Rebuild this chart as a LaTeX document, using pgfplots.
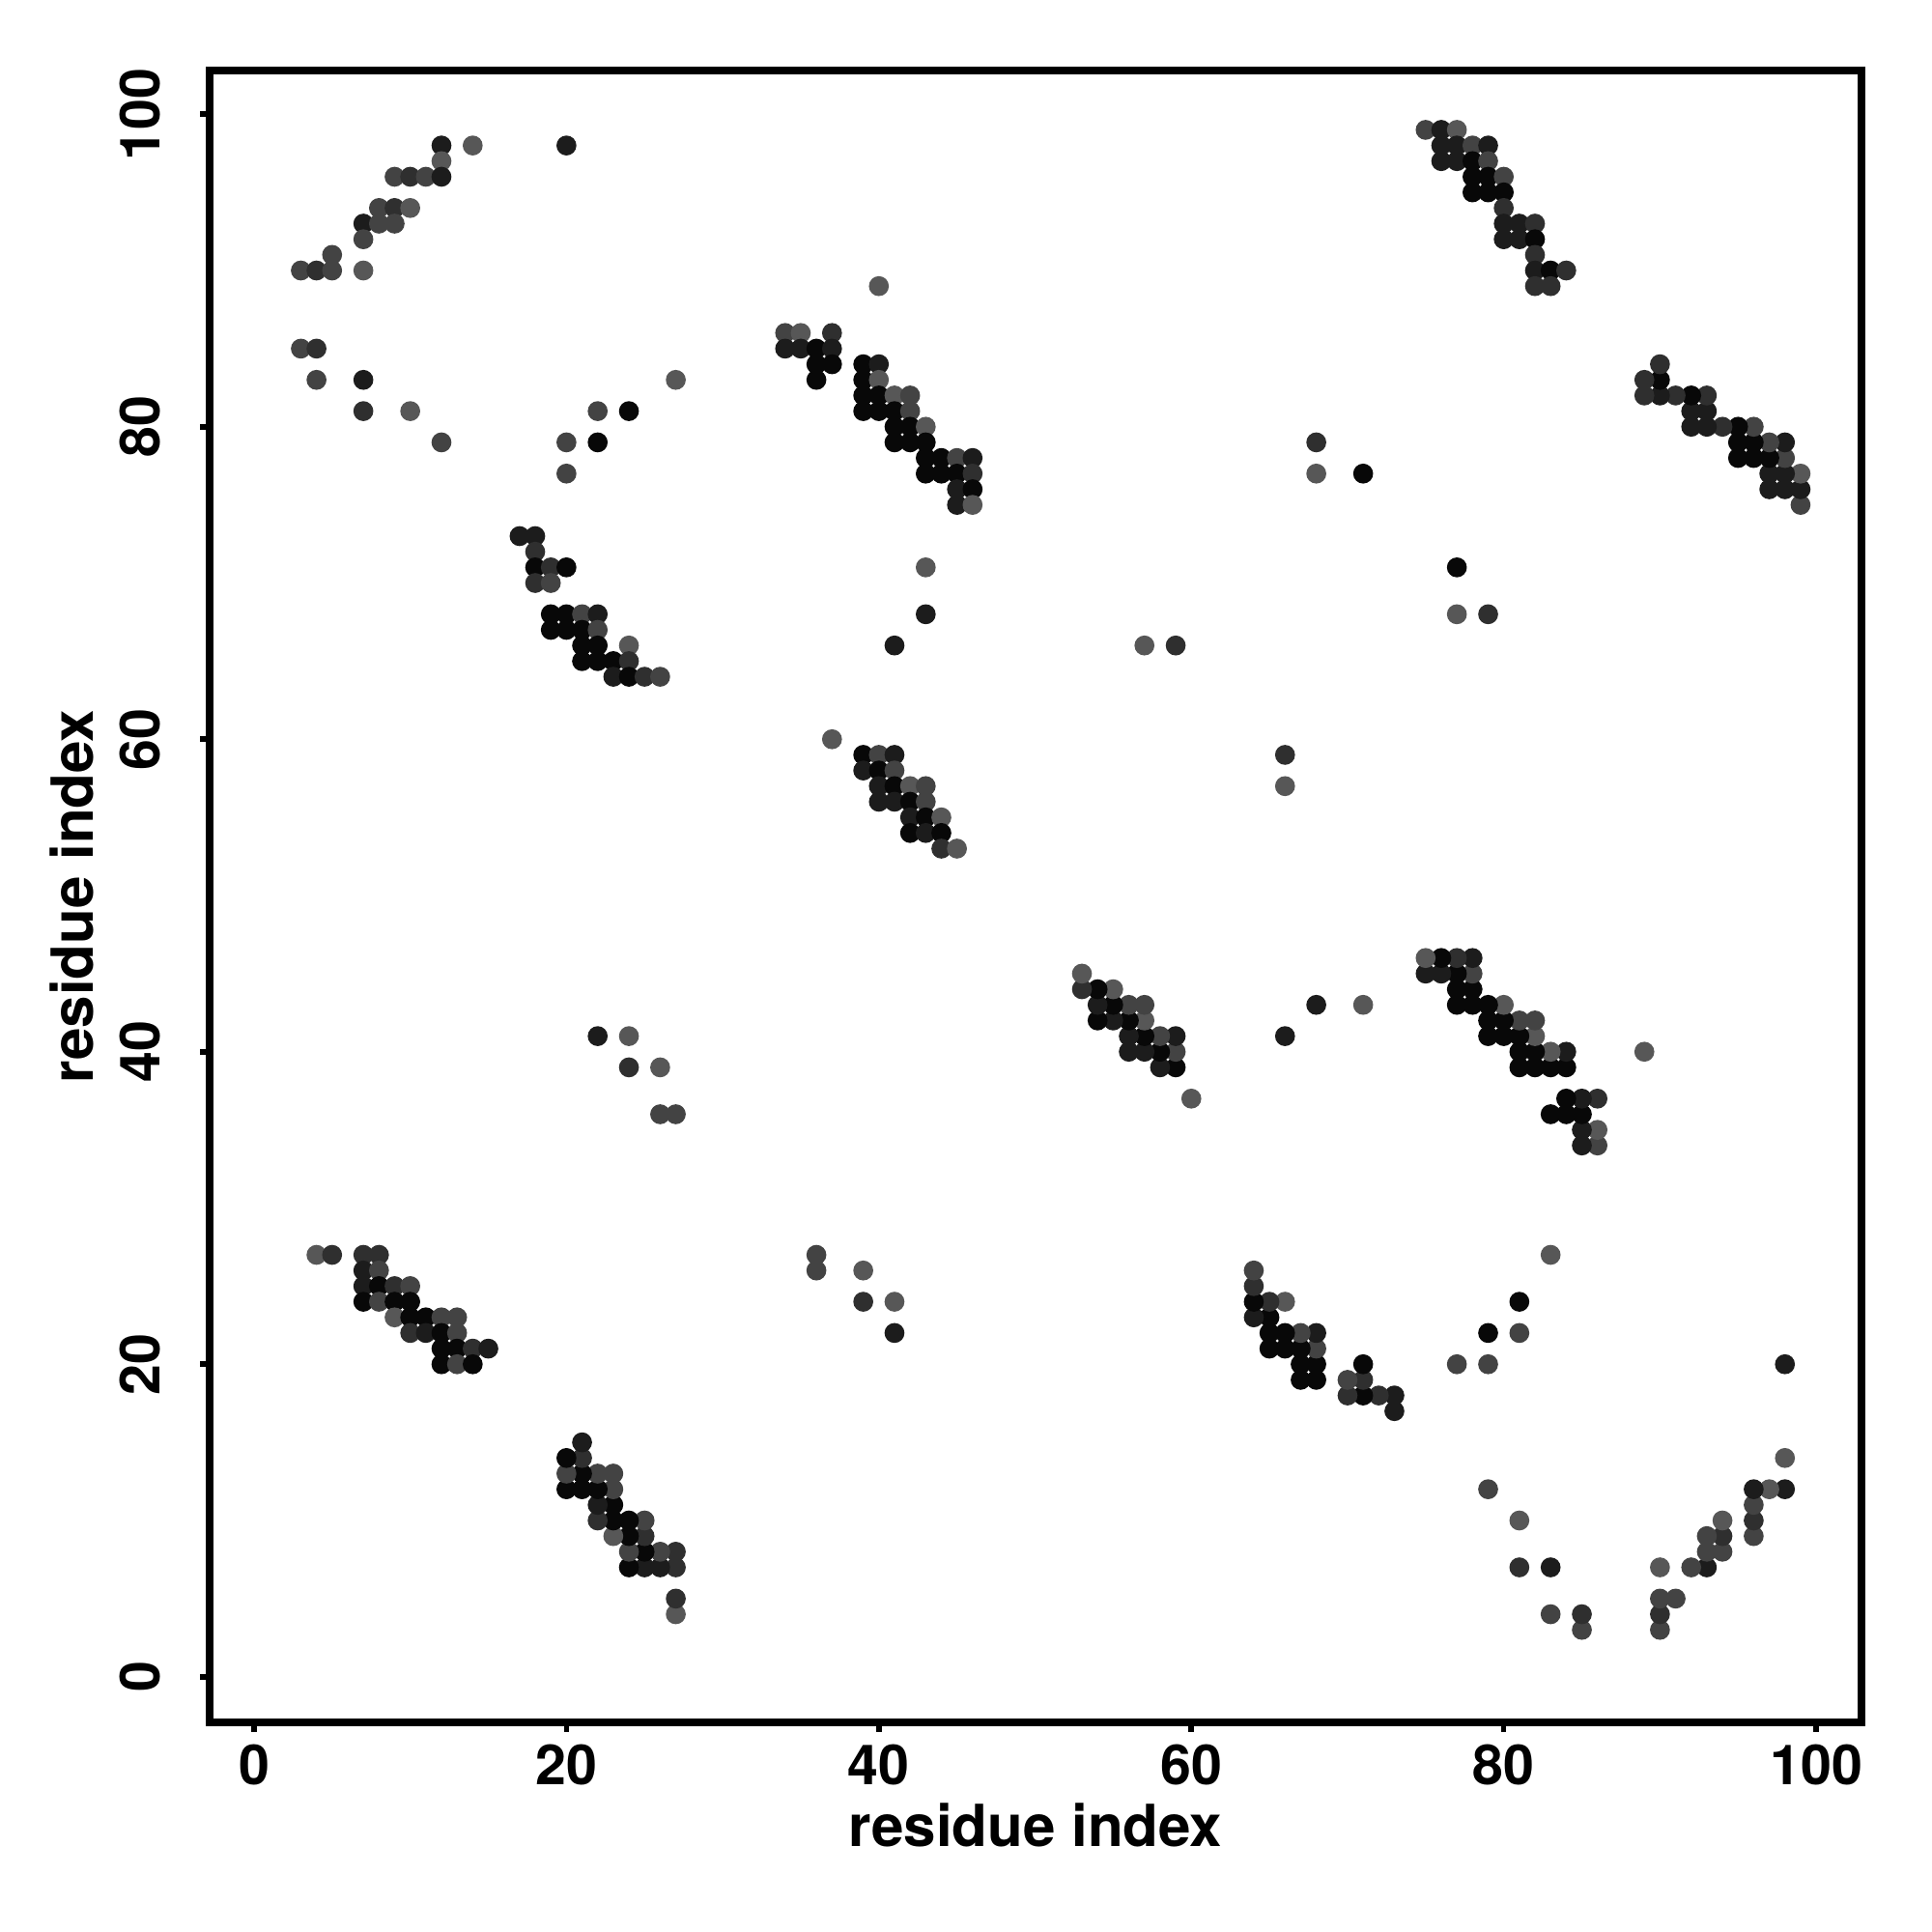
\documentclass[border=0pt]{standalone}
\usepackage{fontspec}
\setmainfont{TeX Gyre Heros}
\usepackage{pgfplots}
\pgfplotsset{compat=1.18}
\usepackage{pgfplotstable}

% upper triangle of the symmetric contact map: x y shade(0=black .. 4=gray)
\pgfplotstableread{
x y c
12 98 1
14 98 4
20 98 1
12 97 4
9 96 3
10 96 2
11 96 3
12 96 1
8 94 3
9 94 2
10 94 4
7 93 1
8 93 3
9 93 3
7 92 3
5 91 3
3 90 3
4 90 2
5 90 3
7 90 4
3 85 3
4 85 2
4 83 3
7 83 1
27 83 4
7 81 2
10 81 4
22 81 3
24 81 0
12 79 3
20 79 3
22 79 0
20 77 3
40 89 4
34 86 3
35 86 4
37 86 2
34 85 1
35 85 1
36 85 0
37 85 1
36 84 0
37 84 0
39 84 0
40 84 1
36 83 0
39 83 0
40 83 4
39 82 0
40 82 0
41 82 4
42 82 3
39 81 0
40 81 0
41 81 0
42 81 3
41 80 0
42 80 0
43 80 4
41 79 0
42 79 0
43 79 0
43 78 0
44 78 0
45 78 3
46 78 1
43 77 0
44 77 0
45 77 0
46 77 2
45 76 1
46 76 0
45 75 1
46 75 4
75 99 3
76 99 1
77 99 4
76 98 1
77 98 1
78 98 3
79 98 1
76 97 1
77 97 1
78 97 0
79 97 3
78 96 0
79 96 0
80 96 3
78 95 0
79 95 0
80 95 0
80 94 2
80 93 1
81 93 1
82 93 2
80 92 1
81 92 1
82 92 0
82 91 2
82 90 1
83 90 0
84 90 2
82 89 2
83 89 2
17 73 1
18 73 1
18 72 2
18 71 0
19 71 2
20 71 0
18 70 2
19 70 3
19 68 0
20 68 0
21 68 3
22 68 1
19 67 0
20 67 0
21 67 0
22 67 3
21 66 0
22 66 0
24 66 4
21 65 0
22 65 0
23 65 0
24 65 2
23 64 1
24 64 0
25 64 2
26 64 3
43 71 4
43 68 1
41 66 1
37 60 4
39 59 0
40 59 3
41 59 1
39 58 1
40 58 0
41 58 3
40 57 1
41 57 0
42 57 4
43 57 3
40 56 1
41 56 1
42 56 0
43 56 3
42 55 1
43 55 0
44 55 4
42 54 0
43 54 1
44 54 0
44 53 2
45 53 4
68 79 2
68 77 4
71 77 0
57 66 4
59 66 2
22 41 1
24 41 4
24 39 2
26 39 4
26 36 3
27 36 3
4 27 4
5 27 2
7 27 2
8 27 2
7 26 1
8 26 3
7 25 1
8 25 0
9 25 2
10 25 3
7 24 0
8 24 3
9 24 0
10 24 0
9 23 4
10 23 0
11 23 0
12 23 3
13 23 3
10 22 2
11 22 1
12 22 0
13 22 3
12 21 0
13 21 0
14 21 2
15 21 1
12 20 0
13 20 3
14 20 0
}\contacts

\begin{document}
\begin{tikzpicture}
\begin{axis}[
  scale only axis, width=431bp, height=431bp,
  xmin=-2.84, xmax=102.9, ymin=-2.92, ymax=102.8,
  axis line style={line width=2bp},
  tick align=outside, tick pos=left,
  major tick length=2.4bp,
  tick style={black, line width=1.4bp},
  xtick={0,20,...,100}, ytick={0,20,...,100},
  ticklabel style={font=\fontsize{14.5}{17}\selectfont\bfseries},
  /pgf/number format/assume math mode=true,
  yticklabel style={rotate=90, anchor=south},
  yticklabel shift=7bp,
  xlabel={residue index}, ylabel={residue index},
  label style={font=\fontsize{15.2}{18}\selectfont\bfseries},
  xlabel shift=-2.2bp, ylabel shift=0bp,
  colormap={cm}{gray(0cm)=(0.03); gray(1cm)=(0.34)},
  point meta min=0, point meta max=4,
]
\addplot[scatter, only marks, mark=*, mark size=2.4bp,
  scatter/use mapped color={draw=mapped color, fill=mapped color},
  point meta=explicit] table[x=x, y=y, meta=c] {\contacts};
\addplot[scatter, only marks, mark=*, mark size=2.4bp,
  scatter/use mapped color={draw=mapped color, fill=mapped color},
  point meta=explicit] table[x=y, y=x, meta=c] {\contacts};
\coordinate (bl) at (rel axis cs:0,0);
\coordinate (tr) at (rel axis cs:1,1);
\end{axis}
\path ([shift={(-54.7bp,-54.7bp)}]bl) rectangle ([shift={(18.4bp,18.4bp)}]tr);
\end{tikzpicture}
\end{document}
